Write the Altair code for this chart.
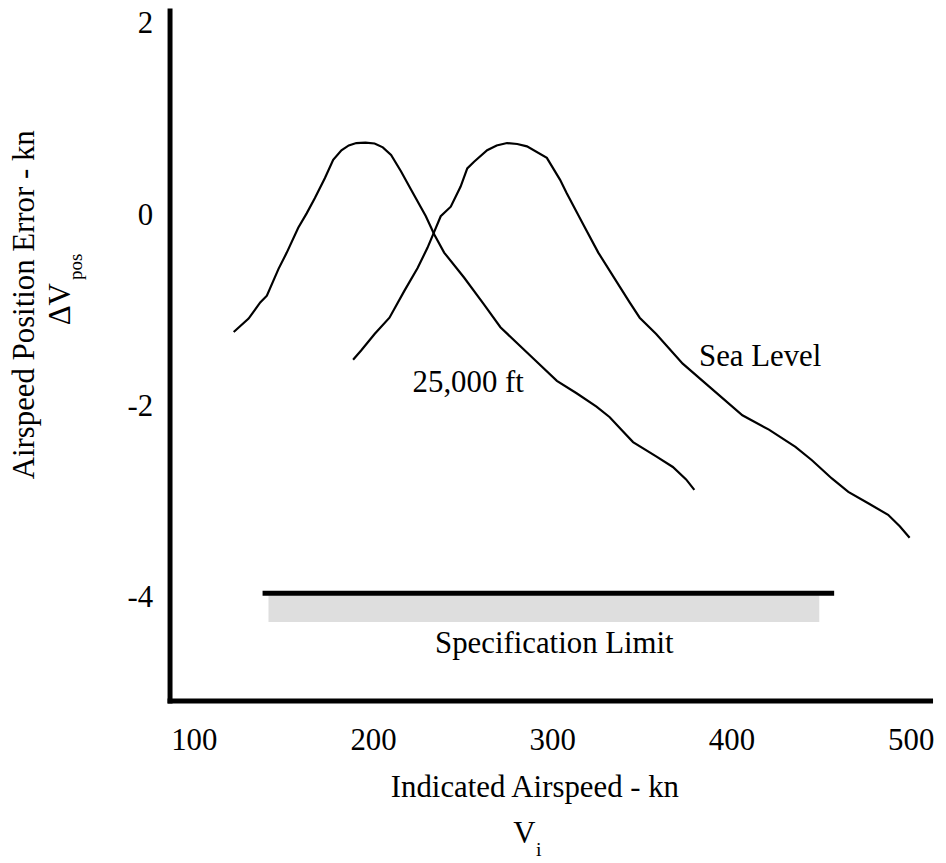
import altair as alt
import pandas as pd

# ---- data ----
kn_25k = [122.3, 130.6, 137.1, 140.8, 147.3, 151.9, 158.3, 163.0, 167.6, 173.2,
          177.8, 182.4, 186.5, 190.7, 195.8, 200.9, 205.5, 210.1, 215.6, 221.2,
          229.5, 234.2, 239.7, 250.8, 261.9, 271.1, 289.6, 302.6, 313.6, 324.7,
          332.1, 338.6, 345.1, 358.0, 367.3, 374.7, 379.3]
dv_25k = [-1.22, -1.08, -0.91, -0.84, -0.56, -0.39, -0.13, 0.02, 0.18, 0.39,
          0.58, 0.68, 0.73, 0.755, 0.76, 0.75, 0.71, 0.63, 0.46, 0.27,
          -0.01, -0.20, -0.39, -0.65, -0.93, -1.17, -1.50, -1.73, -1.86, -2.00,
          -2.11, -2.24, -2.37, -2.52, -2.63, -2.76, -2.87]

kn_sea = [188.9, 193.5, 200.9, 209.2, 217.5, 224.9, 230.4, 234.2, 237.8, 243.4,
          248.9, 252.6, 256.4, 263.7, 269.0, 274.8, 280.5, 285.9, 297.0, 304.4,
          308.1, 317.4, 325.7, 335.8, 343.2, 348.8, 358.0, 372.8, 387.6, 406.1,
          420.9, 435.7, 444.9, 456.0, 465.2, 476.3, 487.4, 493.9, 499.4]
dv_sea = [-1.51, -1.41, -1.24, -1.07, -0.79, -0.55, -0.34, -0.17, -0.01, 0.09,
          0.30, 0.49, 0.56, 0.68, 0.73, 0.755, 0.745, 0.72, 0.60, 0.37,
          0.23, -0.10, -0.39, -0.69, -0.91, -1.07, -1.24, -1.55, -1.79, -2.09,
          -2.24, -2.42, -2.56, -2.75, -2.89, -3.01, -3.13, -3.25, -3.37]

spec_line_kn = [138.4, 457.3]
spec_line_dv = -3.95
spec_band_kn = [141.7, 449.0]
spec_band_dv = [-3.97, -4.25]

x_ticks = [100, 200, 300, 400, 500]
y_ticks = [2, 0, -2, -4]

curve_labels = ["25,000 ft", "Sea Level", "Specification Limit"]
curve_label_kn = [222.1, 381.9, 301.2]
curve_label_dv = [-1.85, -1.58, -4.57]
curve_label_align = ["left", "left", "center"]

# ---- tables ----
rows = []
for i, (k, d) in enumerate(zip(kn_25k, dv_25k)):
    rows.append({"kn": k, "dv": d, "series": "25,000 ft", "idx": i})
for i, (k, d) in enumerate(zip(kn_sea, dv_sea)):
    rows.append({"kn": k, "dv": d, "series": "Sea Level", "idx": i})
curves = pd.DataFrame(rows)

band = pd.DataFrame([{"kn": spec_band_kn[0], "kn2": spec_band_kn[1],
                      "dv": spec_band_dv[0], "dv2": spec_band_dv[1]}])
line = pd.DataFrame([{"kn": spec_line_kn[0], "kn2": spec_line_kn[1], "dv": spec_line_dv}])
labels = pd.DataFrame({"kn": curve_label_kn, "dv": curve_label_dv,
                       "text": curve_labels, "align": curve_label_align})

FONT = "Liberation Serif"
FS = 31

xscale = alt.Scale(domain=[86.5, 510.8], nice=False, zero=False)
yscale = alt.Scale(domain=[-5.07, 2.14], nice=False, zero=False)

xaxis = alt.Axis(values=x_ticks, title="Indicated Airspeed - kn",
                 labelExpr="'' + datum.value", labelPadding=25.5,
                 titleX=367, titleY=97, titleAlign="center",
                 titleBaseline="alphabetic", titleAngle=0)
yaxis = alt.Axis(values=y_ticks, title="Airspeed Position Error - kn",
                 labelExpr="'' + datum.value", labelPadding=17,
                 titleX=-136.5, titleY=295.5, titleAlign="center",
                 titleBaseline="alphabetic", titleAngle=270)

def X(field="kn"):
    return alt.X(f"{field}:Q", scale=xscale, axis=xaxis)

def Y(field="dv"):
    return alt.Y(f"{field}:Q", scale=yscale, axis=yaxis)

band_layer = alt.Chart(band).mark_rect(color="#dedede").encode(
    x=X(), x2="kn2:Q", y=Y(), y2="dv2:Q")

rule_layer = alt.Chart(line).mark_rule(color="black", strokeWidth=5, strokeCap="butt").encode(
    x=X(), x2="kn2:Q", y=Y())

curve_layer = alt.Chart(curves).mark_line(color="black", strokeWidth=2.2).encode(
    x=X(), y=Y(), detail="series:N", order="idx:Q")

text_left = alt.Chart(labels[labels["align"] == "left"]).mark_text(
    font=FONT, fontSize=FS, color="black", align="left", baseline="alphabetic").encode(
    x=X(), y=Y(), text="text:N")
text_center = alt.Chart(labels[labels["align"] == "center"]).mark_text(
    font=FONT, fontSize=FS, color="black", align="center", baseline="alphabetic").encode(
    x=X(), y=Y(), text="text:N")

# axis-title pieces (symbol and subscripts)
def piece(txt, px, py, size, align, angle=0):
    d = pd.DataFrame({"t": [txt]})
    kw = dict(font=FONT, fontSize=size, color="black", align=align, baseline="alphabetic")
    if angle:
        kw["angle"] = angle
    return alt.Chart(d).mark_text(**kw).encode(
        x=alt.value(px), y=alt.value(py), text="t:N")

dv_sym = piece("ΔV", -100.5, 295.5, FS, "center", 270)
dv_sub = piece("pos", -88.5, 271, 19, "left", 270)
vi_sym = piece("V", 357, 837, FS, "center")
vi_sub = piece("i", 368.5, 850, 20, "left")

chart = alt.layer(band_layer, rule_layer, curve_layer, text_left, text_center,
                  dv_sym, dv_sub, vi_sym, vi_sub).properties(
    width=765, height=694,
    autosize=alt.AutoSizeParams(type="none"),
    padding={"left": 162.5, "top": 0, "right": 8, "bottom": 163},
    background="white",
).configure_view(stroke=None).configure_axis(
    domainColor="black", domainWidth=5, domainCap="square",
    ticks=False, tickSize=0, grid=False,
    labelFont=FONT, labelFontSize=FS, labelColor="black",
    labelFlush=False, labelOverlap=False, labelBound=False,
    titleFont=FONT, titleFontSize=FS, titleFontWeight="normal", titleColor="black",
)

chart.save("out.html", embed_options={"renderer": "svg", "actions": False})
